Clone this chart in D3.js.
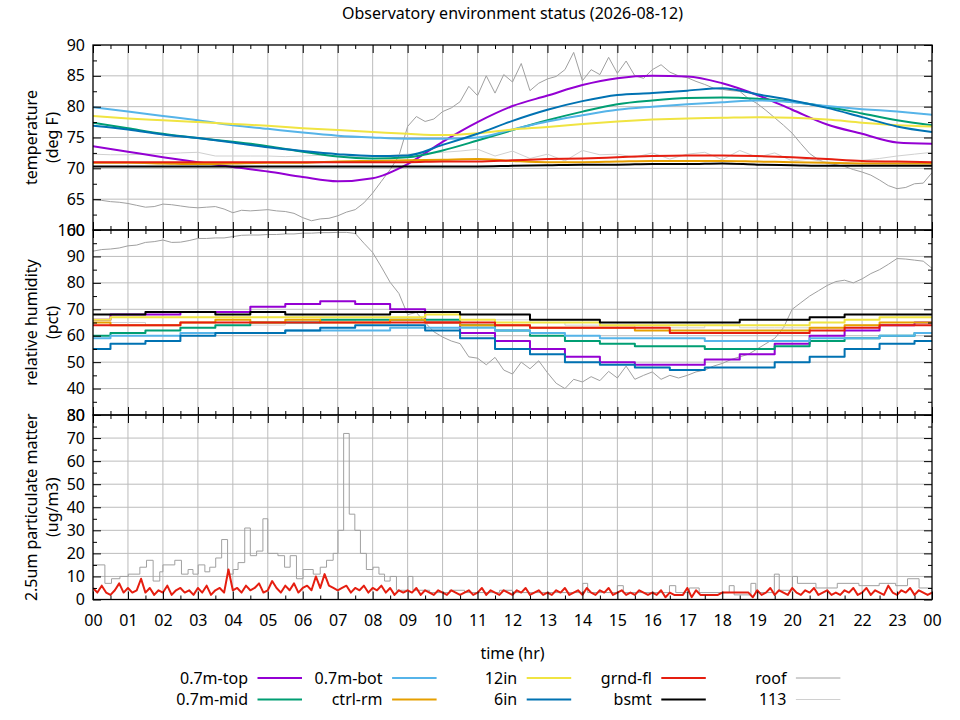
<!DOCTYPE html>
<html>
<head>
<meta charset="utf-8">
<script src="https://cdn.jsdelivr.net/npm/d3@7"></script>
<style>
  body { margin: 0; background: #fff; }
  svg text { font-family: "Noto Sans", sans-serif; fill: #000; }
</style>
</head>
<body>
<div id="chart"></div>
<script>
// ---- time axis ----
const hours = [0, 1, 2, 3, 4, 5, 6, 7, 8, 9, 10, 11, 12, 13, 14, 15, 16, 17, 18, 19, 20, 21, 22, 23, 24];
const hourLabels = ["00", "01", "02", "03", "04", "05", "06", "07", "08", "09", "10", "11",
    "12", "13", "14", "15", "16", "17", "18", "19", "20", "21", "22", "23", "00"];
const halfHours = d3.range(0, 24.5, 0.5);
const quarterHours = d3.range(0, 24.125, 0.25);
const eighthHours = d3.range(0, 24.0625, 0.125);

// ---- series names / colours (legend order, column by column) ----
const seriesNames = ["0.7m-top", "0.7m-mid", "0.7m-bot", "ctrl-rm", "12in", "6in", "grnd-fl", "bsmt", "roof", "113"];
const seriesColors = ["#9400d3", "#009e73", "#56b4e9", "#e69f00", "#f0e442", "#0072b2", "#e51e10", "#000000", "#a0a0a0", "#d0d0d0"];

// ---- y tick values ----
const tempTicks = [60, 65, 70, 75, 80, 85, 90];
const rhTicks = [30, 40, 50, 60, 70, 80, 90, 100];
const pmTicks = [0, 10, 20, 30, 40, 50, 60, 70, 80];

// ---- temperature (deg F), hourly ----
const tempTop = [73.6, 72.7, 71.8, 71.0, 70.2, 69.5, 68.6, 67.9, 68.4, 70.7, 74.3, 77.5, 80.1, 81.8, 83.5, 84.6, 85.0, 84.9, 83.8, 81.9, 79.5, 77.1, 75.6, 74.2, 74.0];
const tempMid = [77.4, 76.5, 75.6, 74.9, 74.3, 73.6, 72.7, 71.9, 71.6, 71.8, 72.9, 74.5, 76.2, 77.8, 79.2, 80.4, 81.0, 81.4, 81.5, 81.3, 80.8, 80.0, 78.9, 77.8, 77.0];
const tempBot = [79.9, 79.2, 78.5, 77.8, 77.0, 76.4, 75.8, 75.3, 75.0, 74.8, 74.8, 75.0, 76.3, 77.6, 78.6, 79.5, 80.0, 80.4, 80.7, 81.0, 80.7, 80.1, 79.6, 79.2, 78.7];
const tempCtrl = [70.9, 70.9, 70.8, 70.7, 70.8, 70.9, 70.9, 71.1, 71.2, 71.3, 71.4, 71.5, 71.2, 71.0, 71.0, 71.1, 71.2, 71.2, 71.2, 71.1, 71.0, 70.9, 70.8, 70.8, 70.8];
const temp12in = [78.5, 78.1, 77.8, 77.5, 77.2, 76.9, 76.5, 76.2, 75.9, 75.6, 75.4, 75.7, 76.3, 76.7, 77.2, 77.6, 77.9, 78.1, 78.2, 78.3, 78.2, 77.9, 77.4, 77.0, 76.8];
const temp6in = [76.9, 76.3, 75.5, 74.9, 74.2, 73.4, 72.8, 72.3, 72.0, 72.1, 73.8, 75.6, 77.7, 79.5, 80.9, 81.9, 82.2, 82.6, 83.0, 82.0, 81.0, 79.8, 78.3, 76.8, 75.9];
const tempGrnd = [71.0, 71.0, 71.0, 71.0, 71.0, 71.0, 71.0, 71.0, 71.0, 71.0, 71.1, 71.1, 71.3, 71.5, 71.6, 71.8, 72.0, 72.1, 72.1, 72.0, 71.8, 71.5, 71.2, 71.1, 71.0];
const tempBsmt = [70.3, 70.3, 70.3, 70.3, 70.3, 70.3, 70.3, 70.3, 70.3, 70.3, 70.3, 70.3, 70.4, 70.5, 70.6, 70.6, 70.7, 70.7, 70.8, 70.6, 70.5, 70.4, 70.4, 70.4, 70.4];
// half-hourly
const temp113 = [72.3, 72.2, 72.2, 72.3, 72.4, 72.5, 72.6, 72.0, 72.0, 72.0, 72.0, 71.9, 72.0, 72.1, 72.0, 72.0,
    71.9, 72.1, 72.3, 72.4, 72.6, 72.8, 73.1, 72.0, 72.8, 71.6, 72.3, 71.2, 72.9, 72.2, 72.3, 71.8,
    72.5, 71.5, 72.3, 72.6, 71.4, 72.9, 71.8, 72.5, 71.2, 71.5, 71.0, 70.9, 71.3, 71.6, 72.0, 72.3, 72.6];
// quarter-hourly
const tempRoof = [
    64.9, 64.8, 64.6, 64.5, 64.3, 64.0, 63.7, 63.8, 64.2, 64.1, 63.9, 63.7,
    63.6, 63.7, 63.8, 63.4, 62.8, 63.2, 63.1, 63.2, 63.3, 63.1, 63.0, 62.7,
    62.0, 61.5, 61.8, 61.9, 62.3, 62.9, 63.3, 64.4, 66.0, 67.9, 69.8, 72.0,
    76.8, 78.4, 77.6, 78.0, 79.2, 79.8, 80.8, 83.3, 81.8, 85.0, 82.2, 85.2,
    84.0, 87.0, 82.6, 83.8, 84.5, 84.9, 86.0, 88.8, 84.2, 86.0, 85.2, 88.0,
    85.4, 87.4, 85.0, 84.6, 86.0, 86.8, 85.6, 85.0, 84.7, 84.1, 83.6, 83.0,
    82.8, 82.6, 82.5, 81.3, 80.5, 79.4, 78.2, 77.0, 75.7, 74.0, 72.4, 71.4,
    70.8, 70.6, 70.3, 69.8, 69.4, 68.9, 68.1, 67.2, 66.7, 66.9, 67.5, 67.6, 69.3];

// ---- relative humidity (pct), hourly ----
const rhTop = [66, 68, 68, 69, 69, 71, 72, 73, 72, 70, 65, 61, 58, 55, 52, 50, 49, 49, 51, 53, 57, 60, 62, 64, 65];
const rhMid = [60, 61, 62, 63, 64, 65, 65, 66, 66, 66, 66, 64, 62, 60, 58, 57, 56, 56, 55, 55, 56, 58, 59, 60, 61];
const rhBot = [59, 60, 60, 61, 61, 61, 62, 62, 62, 63, 63, 63, 62, 61, 60, 59, 59, 59, 58, 58, 58, 59, 59, 60, 61];
const rhCtrl = [65, 64, 64, 65, 66, 65, 66, 65, 65, 66, 65, 64, 64, 63, 63, 63, 62, 62, 62, 62, 62, 63, 64, 65, 65];
const rh12in = [66, 67, 67, 67, 67, 67, 67, 67, 67, 67, 68, 66, 65, 65, 65, 64, 64, 64, 64, 64, 64, 65, 66, 67, 67];
const rh6in = [55, 57, 58, 60, 61, 61, 62, 63, 64, 64, 62, 59, 55, 53, 50, 49, 48, 47, 48, 48, 50, 52, 55, 57, 58];
const rhGrnd = [64, 64, 64, 65, 65, 65, 65, 65, 65, 65, 65, 65, 64, 63, 63, 63, 63, 61, 61, 61, 61, 62, 63, 64, 64];
const rhBsmt = [68, 68, 69, 69, 68, 69, 68, 68, 68, 69, 69, 68, 68, 66, 66, 65, 65, 65, 65, 66, 66, 67, 68, 68, 68];
const rh113 = [64, 65, 64, 65, 65, 64, 65, 66, 65, 66, 65, 65, 66, 65, 64, 64, 63, 63, 64, 63, 63, 63, 64, 65, 65];
// quarter-hourly
const rhRoof = [
    92.0, 92.6, 92.8, 93.2, 94.0, 94.3, 95.3, 95.6, 96.2, 95.3, 95.4, 96.0,
    96.8, 96.8, 97.0, 97.0, 97.5, 98.0, 98.1, 98.1, 98.3, 98.3, 98.5, 98.5,
    98.8, 98.8, 99.0, 99.0, 99.1, 99.1, 98.7, 95.0, 91.5, 86.0, 80.2, 76.0,
    68.0, 68.8, 65.0, 61.5, 59.5, 58.0, 57.0, 52.0, 51.5, 49.0, 51.8, 47.0,
    45.5, 50.0, 47.5, 50.5, 46.0, 42.0, 40.0, 43.5, 42.5, 44.5, 43.0, 46.5,
    44.0, 48.5, 43.5, 45.0, 46.3, 43.5, 45.0, 44.0, 45.0, 46.3, 47.0, 48.5,
    49.5, 51.0, 52.0, 53.0, 55.0, 57.0, 59.0, 63.0, 70.0, 72.5, 75.0, 77.0,
    79.0, 80.5, 81.0, 80.0, 81.5, 83.5, 85.0, 87.0, 89.2, 89.0, 88.6, 88.2, 85.5];

// ---- 2.5um particulate matter (ug/m3) ----
// grnd-fl, every 7.5 minutes
const pmGrnd = [
    5, 3, 6, 3, 2, 4, 7, 3,   5, 3, 4, 9, 3, 5, 2, 4,   3, 6, 2, 4, 5, 3, 4, 2,
    5, 3, 6, 2, 4, 5, 3, 13,  4, 5, 3, 6, 4, 5, 7, 3,   4, 8, 5, 3, 6, 4, 7, 3,
    5, 6, 4, 10, 5, 11, 6, 5, 4, 5, 6, 3, 5, 4, 6, 3,   5, 4, 6, 3, 5, 2, 4, 3,
    4, 3, 5, 2, 4, 3, 2, 4,   3, 2, 4, 3, 2, 3, 4, 2,   3, 5, 2, 4, 3, 2, 4, 3,
    2, 4, 3, 5, 2, 3, 4, 2,   3, 2, 4, 3, 5, 2, 3, 4,   2, 5, 3, 2, 4, 3, 5, 2,
    3, 4, 2, 3, 2, 4, 3, 2,   3, 2, 4, 1, 3, 2, 2, 2,   5, 1, 4, 2, 2, 2, 2, 2,
    3, 3, 3, 3, 3, 3, 3, 1,   4, 2, 3, 5, 2, 4, 3, 2,   5, 3, 2, 4, 3, 5, 2, 3,
    4, 2, 3, 2, 4, 3, 5, 2,   3, 5, 2, 4, 3, 2, 6, 3,   2, 4, 3, 5, 2, 4, 3, 2, 3];
// roof, stepped readings (hour where each reading starts)
const pmRoofHours = [0, 0.34, 0.53, 0.77, 1.01, 1.34, 1.53, 1.72, 1.91, 2.0, 2.34, 2.53, 2.72, 2.86,
    3.01, 3.2, 3.34, 3.51, 3.68, 3.85, 4.01, 4.15, 4.34, 4.5, 4.68, 4.86, 5.0, 5.29, 5.48, 5.64, 5.82,
    6.01, 6.3, 6.5, 6.68, 6.87, 7.01, 7.17, 7.33, 7.49, 7.65, 7.82, 8.01, 8.18, 8.34, 8.5, 8.68,
    9.01, 9.15, 9.63, 10.2, 10.63, 11.63, 12.0, 14.01, 14.15, 15.0, 15.17, 16.49, 16.67, 17.06, 17.34,
    18.2, 18.34, 18.82, 18.96, 19.49, 19.63, 20.01, 20.15, 20.68, 21.29, 21.91, 22.49, 22.96, 23.3, 23.63, 24];
const pmRoofValues = [15, 7, 9, 10, 11, 14, 17, 8, 12, 15, 17, 11, 13, 11,
    15, 12, 14, 18, 26, 11, 13, 16, 31, 19, 21, 35, 20, 19, 14, 19, 9,
    13, 11, 14, 17, 20, 30, 72, 37, 30, 20, 13, 14, 11, 8, 10, 4,
    10, 4, 3, 4, 3, 4, 3, 7, 3, 6, 3, 6, 3, 5, 3,
    6, 2, 7, 3, 11, 4, 10, 7, 5, 7, 6, 7, 6, 9, 5, 5];

// ---- layout ----
const width = 960, height = 720;
const plotLeft = 93, plotRight = 932;
const gridColor = "#bcbcbc";
const fontSize = 16;

const x = d3.scaleLinear().domain([0, 24]).range([plotLeft, plotRight]);

const panels = [
    {
        top: 45, bottom: 230, domain: [60, 90], ticks: tempTicks, labels: ["temperature", "(deg F)"],
        series: [
            { i: 8, t: quarterHours, v: tempRoof, curve: d3.curveLinear, w: 1 },
            { i: 9, t: halfHours, v: temp113, curve: d3.curveLinear, w: 1 },
            { i: 0, t: hours, v: tempTop, curve: d3.curveMonotoneX, w: 2 },
            { i: 1, t: hours, v: tempMid, curve: d3.curveMonotoneX, w: 2 },
            { i: 2, t: hours, v: tempBot, curve: d3.curveMonotoneX, w: 2 },
            { i: 3, t: hours, v: tempCtrl, curve: d3.curveMonotoneX, w: 2 },
            { i: 4, t: hours, v: temp12in, curve: d3.curveMonotoneX, w: 2 },
            { i: 5, t: hours, v: temp6in, curve: d3.curveMonotoneX, w: 2 },
            { i: 6, t: hours, v: tempGrnd, curve: d3.curveMonotoneX, w: 2 },
            { i: 7, t: hours, v: tempBsmt, curve: d3.curveMonotoneX, w: 2 }
        ]
    },
    {
        top: 230, bottom: 415, domain: [30, 100], ticks: rhTicks, labels: ["relative humidity", "(pct)"],
        series: [
            { i: 8, t: quarterHours, v: rhRoof, curve: d3.curveLinear, w: 1 },
            { i: 9, t: hours, v: rh113, curve: d3.curveStep, w: 1 },
            { i: 0, t: hours, v: rhTop, curve: d3.curveStep, w: 2 },
            { i: 1, t: hours, v: rhMid, curve: d3.curveStep, w: 2 },
            { i: 2, t: hours, v: rhBot, curve: d3.curveStep, w: 2 },
            { i: 3, t: hours, v: rhCtrl, curve: d3.curveStep, w: 2 },
            { i: 4, t: hours, v: rh12in, curve: d3.curveStep, w: 2 },
            { i: 5, t: hours, v: rh6in, curve: d3.curveStep, w: 2 },
            { i: 6, t: hours, v: rhGrnd, curve: d3.curveStep, w: 2 },
            { i: 7, t: hours, v: rhBsmt, curve: d3.curveStep, w: 2 }
        ]
    },
    {
        top: 415, bottom: 599.5, domain: [0, 80], ticks: pmTicks, labels: ["2.5um particulate matter", "(ug/m3)"],
        series: [
            { i: 8, t: pmRoofHours, v: pmRoofValues, curve: d3.curveStepAfter, w: 1 },
            { i: 6, t: eighthHours, v: pmGrnd, curve: d3.curveLinear, w: 2 }
        ]
    }
];

const svg = d3.select("#chart").append("svg")
    .attr("width", width)
    .attr("height", height);

svg.append("rect").attr("width", width).attr("height", height).attr("fill", "#fff");

// Title
svg.append("text")
    .attr("x", (plotLeft + plotRight) / 2)
    .attr("y", 19)
    .attr("text-anchor", "middle")
    .attr("font-size", fontSize)
    .text("Observatory environment status (2026-08-12)");

// midpoints between ticks, for the minor tick marks
const midpoints = arr => arr.slice(1).map((d, k) => (d + arr[k]) / 2);
const styleAxis = g => {
    g.select(".domain").remove();
    g.attr("font-size", fontSize).attr("font-family", null);
    g.selectAll("line").attr("stroke", "#000");
};

panels.forEach((panel, p) => {
    const y = d3.scaleLinear().domain(panel.domain).range([panel.bottom, panel.top]);
    const g = svg.append("g");

    // grid lines
    g.append("g").selectAll("line")
        .data(hours.slice(1, -1))
        .join("line")
        .attr("x1", d => x(d)).attr("x2", d => x(d))
        .attr("y1", panel.top).attr("y2", panel.bottom)
        .attr("stroke", gridColor);
    g.append("g").selectAll("line")
        .data(panel.ticks.slice(1, -1))
        .join("line")
        .attr("x1", plotLeft).attr("x2", plotRight)
        .attr("y1", d => y(d)).attr("y2", d => y(d))
        .attr("stroke", gridColor);

    // clip the data to the panel
    const clipId = "clip" + p;
    svg.append("clipPath").attr("id", clipId)
        .append("rect")
        .attr("x", plotLeft).attr("y", panel.top)
        .attr("width", plotRight - plotLeft).attr("height", panel.bottom - panel.top);

    const lines = g.append("g").attr("clip-path", `url(#${clipId})`);
    panel.series.forEach(s => {
        const line = d3.line()
            .x((d, k) => x(s.t[k]))
            .y(d => y(d))
            .curve(s.curve);
        lines.append("path")
            .datum(s.v)
            .attr("d", line)
            .attr("fill", "none")
            .attr("stroke", seriesColors[s.i])
            .attr("stroke-width", s.w)
            .attr("stroke-linejoin", "round");
    });

    // frame
    g.append("rect")
        .attr("x", plotLeft).attr("y", panel.top)
        .attr("width", plotRight - plotLeft).attr("height", panel.bottom - panel.top)
        .attr("fill", "none")
        .attr("stroke", "#000")
        .attr("stroke-width", 1.3);

    // y ticks, left (labelled) and right (mirror)
    g.append("g")
        .attr("transform", `translate(${plotLeft},0)`)
        .call(d3.axisLeft(y).tickValues(panel.ticks).tickSizeInner(-8).tickSizeOuter(0).tickPadding(8))
        .call(styleAxis);
    g.append("g")
        .attr("transform", `translate(${plotLeft},0)`)
        .call(d3.axisLeft(y).tickValues(midpoints(panel.ticks)).tickSizeInner(-4).tickSizeOuter(0).tickFormat(""))
        .call(styleAxis);
    g.append("g")
        .attr("transform", `translate(${plotRight},0)`)
        .call(d3.axisRight(y).tickValues(panel.ticks).tickSizeInner(-8).tickSizeOuter(0).tickFormat(""))
        .call(styleAxis);
    g.append("g")
        .attr("transform", `translate(${plotRight},0)`)
        .call(d3.axisRight(y).tickValues(midpoints(panel.ticks)).tickSizeInner(-4).tickSizeOuter(0).tickFormat(""))
        .call(styleAxis);

    // x ticks, top and bottom of each panel
    const isLast = p === panels.length - 1;
    g.append("g")
        .attr("transform", `translate(0,${panel.top})`)
        .call(d3.axisTop(x).tickValues(hours).tickSizeInner(-8).tickSizeOuter(0).tickFormat(""))
        .call(styleAxis);
    g.append("g")
        .attr("transform", `translate(0,${panel.top})`)
        .call(d3.axisTop(x).tickValues(midpoints(hours)).tickSizeInner(-4).tickSizeOuter(0).tickFormat(""))
        .call(styleAxis);
    g.append("g")
        .attr("transform", `translate(0,${panel.bottom})`)
        .call(d3.axisBottom(x).tickValues(hours).tickSizeInner(-8).tickSizeOuter(0).tickPadding(15)
            .tickFormat((d, k) => isLast ? hourLabels[k] : ""))
        .call(styleAxis);
    g.append("g")
        .attr("transform", `translate(0,${panel.bottom})`)
        .call(d3.axisBottom(x).tickValues(midpoints(hours)).tickSizeInner(-4).tickSizeOuter(0).tickFormat(""))
        .call(styleAxis);

    // y label, two lines
    const cy = (panel.top + panel.bottom) / 2;
    panel.labels.forEach((txt, k) => {
        svg.append("text")
            .attr("transform", `translate(${k === 0 ? 31 : 52},${cy}) rotate(-90)`)
            .attr("text-anchor", "middle")
            .attr("dy", "0.35em")
            .attr("font-size", fontSize)
            .text(txt);
    });
});

// x label
svg.append("text")
    .attr("x", (plotLeft + plotRight) / 2)
    .attr("y", 659)
    .attr("text-anchor", "middle")
    .attr("font-size", fontSize)
    .text("time (hr)");

// Legend: 5 columns x 2 rows, filled column by column
const legend = svg.append("g");
const legendWidths = [2, 2, 2, 2, 2, 2, 2, 2, 1, 1];
seriesNames.forEach((name, k) => {
    const col = Math.floor(k / 2);
    const row = k % 2;
    const tx = 248 + col * 134.6;
    const ly = 678 + row * 21.5;
    legend.append("text")
        .attr("x", tx)
        .attr("y", ly)
        .attr("dy", "0.35em")
        .attr("text-anchor", "end")
        .attr("font-size", fontSize)
        .text(name);
    legend.append("line")
        .attr("x1", tx + 9.5).attr("x2", tx + 54)
        .attr("y1", ly).attr("y2", ly)
        .attr("stroke", seriesColors[k])
        .attr("stroke-width", legendWidths[k]);
});
</script>
</body>
</html>
